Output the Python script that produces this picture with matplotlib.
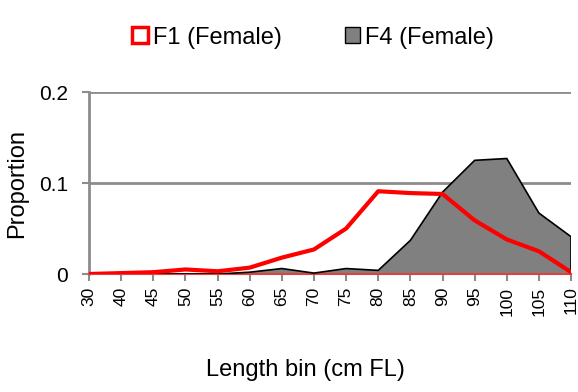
import matplotlib.pyplot as plt
import numpy as np
from matplotlib.patches import Patch

plt.rcParams['font.family'] = ['Liberation Sans', 'DejaVu Sans']

# bins de comprimento (35 nao aparece no grafico original)
bins = ['30', '40', '45', '50', '55', '60', '65', '70', '75', '80',
        '85', '90', '95', '100', '105', '110']
f1_female = [0.0, 0.001, 0.002, 0.005, 0.003, 0.007, 0.018, 0.027, 0.050, 0.091,
             0.089, 0.088, 0.059, 0.038, 0.025, 0.002]
f4_female = [0.0, 0.0, 0.0, 0.0, 0.0, 0.002, 0.006, 0.001, 0.006, 0.004,
             0.037, 0.090, 0.125, 0.127, 0.067, 0.041]
yticks = [0, 0.1, 0.2]
ytick_labels = ['0', '0.1', '0.2']

fig = plt.figure(figsize=(5.78, 3.92), dpi=100)
ax = fig.add_axes([0.154, 0.301, 0.834, 0.464])

x = np.arange(len(bins))

# grade horizontal
for yv in yticks[1:]:
    ax.axhline(yv, color='#8c8c8c', lw=2, zorder=1)

ax.fill_between(x, f4_female, 0, facecolor='#808080', edgecolor='none', zorder=2)
ax.plot(x, f4_female, color='black', lw=1.2, zorder=3)
ax.plot([x[-1], x[-1]], [0, f4_female[-1]], color='black', lw=1.2, zorder=3)
ax.plot(x, f1_female, color='#ff0000', lw=3, zorder=4, solid_joinstyle='round')

ax.set_xlim(x[0], x[-1])
ax.set_ylim(0, 0.2)
ax.set_xticks(x)
ax.set_xticklabels(bins, rotation=90, fontsize=12.5)
ax.set_yticks(yticks)
ax.set_yticklabels(ytick_labels, fontsize=15)

for s in ['top', 'right']:
    ax.spines[s].set_visible(False)
ax.spines['left'].set_color('#8c8c8c')
ax.spines['left'].set_linewidth(2)
ax.spines['bottom'].set_color('#e04040')
ax.spines['bottom'].set_linewidth(1.5)
ax.tick_params(axis='both', color='#8c8c8c', width=1.5, length=5)
ax.tick_params(axis='y', pad=10)
ax.tick_params(axis='x', pad=4)

ax.set_ylabel('Proportion', fontsize=17)
ax.yaxis.set_label_coords(-0.127, 0.5)
fig.text(0.528, 0.056, 'Length bin (cm FL)', ha='center', va='center', fontsize=17)

handles = [Patch(facecolor='white', edgecolor='#ff0000', lw=2.5, label='F1 (Female)'),
           Patch(facecolor='#808080', edgecolor='black', lw=1, label='F4 (Female)')]
fig.legend(handles=handles, loc='center', bbox_to_anchor=(0.542, 0.904), ncol=2,
           frameon=False, fontsize=17, handlelength=0.65, handleheight=0.65,
           handletextpad=0.2, columnspacing=2.7)

plt.savefig('out.png', dpi=100)
